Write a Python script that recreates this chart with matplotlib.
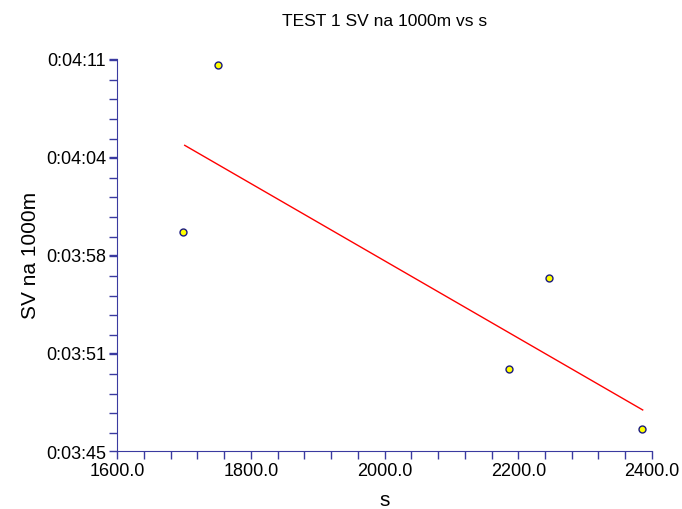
import matplotlib
matplotlib.use("Agg")
import matplotlib.pyplot as plt
from matplotlib.ticker import FixedLocator, MultipleLocator, FuncFormatter

plt.rcParams["font.family"] = ["Liberation Sans", "DejaVu Sans"]

# data (y in seconds)
s_values = [1750.6, 1699.1, 2246.0, 2186.6, 2384.6]
sv_seconds = [250.57, 239.49, 236.46, 230.43, 226.46]

# trend line end points
trend_x = [1701.2, 2386.1]
trend_y = [245.25, 227.72]

y_ticks = [225, 231.5, 238, 244.5, 251]
AXIS_COLOR = "#3a3aa0"


def fmt_time(val, pos):
    t = int(val)
    return f"{t // 3600}:{(t % 3600) // 60:02d}:{t % 60:02d}"


fig = plt.figure(figsize=(6.82, 5.10), dpi=100)
ax = fig.add_axes([0.1716, 0.1137, 0.956 - 0.1716, 0.8833 - 0.1137])

ax.plot(trend_x, trend_y, color="red", linewidth=1.0, zorder=2)
ax.plot(s_values, sv_seconds, linestyle="none", marker="o", markersize=5,
        markerfacecolor="yellow", markeredgecolor="#1a1a80",
        markeredgewidth=1.0, zorder=3)

ax.set_xlim(1600, 2400)
ax.set_ylim(225, 251)
ax.xaxis.set_major_locator(MultipleLocator(200))
ax.xaxis.set_minor_locator(MultipleLocator(40))
ax.xaxis.set_major_formatter(FuncFormatter(lambda v, p: f"{v:.1f}"))
ax.yaxis.set_major_locator(FixedLocator(y_ticks))
ax.yaxis.set_minor_locator(MultipleLocator(1.3))
ax.yaxis.set_major_formatter(FuncFormatter(fmt_time))

for side in ("top", "right"):
    ax.spines[side].set_visible(False)
for side in ("left", "bottom"):
    ax.spines[side].set_color(AXIS_COLOR)

ax.tick_params(which="both", direction="out", length=6, width=1,
               color=AXIS_COLOR, labelsize=13, pad=2)

ax.set_xlabel("s", fontsize=15, labelpad=8)
ax.set_ylabel("SV na 1000m", fontsize=15, labelpad=4)
ax.set_title("TEST 1 SV na 1000m vs s", fontsize=12.5, pad=24)

fig.savefig("out.png", dpi=100)
